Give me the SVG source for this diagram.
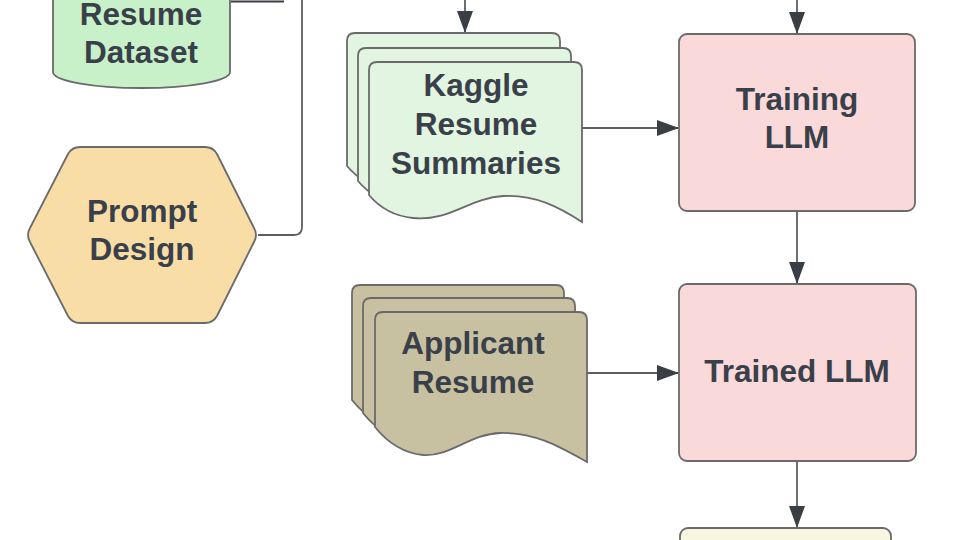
<svg xmlns="http://www.w3.org/2000/svg" width="960" height="540" viewBox="0 0 960 540">
<defs>
<marker id="ah" viewBox="0 0 22 16" refX="22" refY="8" markerWidth="22" markerHeight="16" markerUnits="userSpaceOnUse" orient="auto">
<path d="M0,0 L22,8 L0,16 Z" fill="#3a3f46"/>
</marker>
<path id="kdoc" d="M0,8 Q0,0 8,0 H205 Q213,0 213,8 V160 C190,145 165,132 134,134 C100,136 80,160 44,156 C25,154 10,145 0,133 Z"/>
<path id="adoc" d="M0,8 Q0,0 8,0 H204 Q212,0 212,8 V150 C185,135 160,120 125,121 C95,122 75,145 48,143 C28,141 12,130 0,115 Z"/>
</defs>
<style>
.lbl{font-family:"Liberation Sans",Arial,sans-serif;font-weight:bold;font-size:31.5px;fill:#394049;text-anchor:middle}
.sh{stroke:#6a6a6a;stroke-width:1.8}
.con{fill:none;stroke:#5c5e62;stroke-width:1.8}
.dk{fill:none;stroke:#3a3f46;stroke-width:2}
</style>
<rect width="960" height="540" fill="#ffffff"/>

<g id="connectors">
<path class="dk" d="M231,1.5 H284"/>
<path class="con" d="M258,235 H294 Q302,235 302,227 V-5"/>
<path class="con" d="M465,-5 V33" marker-end="url(#ah)"/>
<path class="con" d="M797,-5 V34" marker-end="url(#ah)"/>
<path class="con" d="M582,128 H679" marker-end="url(#ah)"/>
<path class="con" d="M797,211 V284" marker-end="url(#ah)"/>
<path class="con" d="M587,373 H679" marker-end="url(#ah)"/>
<path class="con" d="M797,461 V528" marker-end="url(#ah)"/>
</g>

<g id="resume-dataset">
<path class="sh" fill="#c8f1c9" d="M53,-40 V72 A88.5,16 0 0 0 230,72 V-40"/>
<text class="lbl" x="141" y="25">Resume</text>
<text class="lbl" x="141" y="63">Dataset</text>
</g>

<g id="prompt-design">
<path class="sh" fill="#f9dda7" stroke-linejoin="round" d="M30,228 L68,154 Q72,147 80,147 H205 Q213,147 217,154 L254,228 Q258,235 254,242 L217,316 Q213,323 205,323 H80 Q72,323 68,316 L30,242 Q26,235 30,228 Z"/>
<text class="lbl" x="142" y="222">Prompt</text>
<text class="lbl" x="142" y="260">Design</text>
</g>

<g id="kaggle-resume-summaries">
<use href="#kdoc" class="sh" fill="#e2f5e0" x="347" y="33"/>
<use href="#kdoc" class="sh" fill="#e2f5e0" x="358" y="48"/>
<use href="#kdoc" class="sh" fill="#e2f5e0" x="369" y="62"/>
<text class="lbl" x="476" y="96">Kaggle</text>
<text class="lbl" x="476" y="135">Resume</text>
<text class="lbl" x="476" y="174">Summaries</text>
</g>

<g id="applicant-resume">
<use href="#adoc" class="sh" fill="#c8c1a1" x="352" y="285"/>
<use href="#adoc" class="sh" fill="#c8c1a1" x="363" y="298"/>
<use href="#adoc" class="sh" fill="#c8c1a1" x="375" y="312"/>
<text class="lbl" x="473" y="354">Applicant</text>
<text class="lbl" x="473" y="393">Resume</text>
</g>

<g id="training-llm">
<rect class="sh" fill="#f9d9d9" x="679" y="34" width="236" height="177" rx="8"/>
<text class="lbl" x="797" y="110">Training</text>
<text class="lbl" x="797" y="148">LLM</text>
</g>

<g id="trained-llm">
<rect class="sh" fill="#f9d9d9" x="679" y="284" width="237" height="177" rx="8"/>
<text class="lbl" x="797" y="382">Trained LLM</text>
</g>

<g id="output-node">
<rect class="sh" fill="#f8f6e1" x="680" y="528" width="211" height="60" rx="8"/>
</g>
</svg>
